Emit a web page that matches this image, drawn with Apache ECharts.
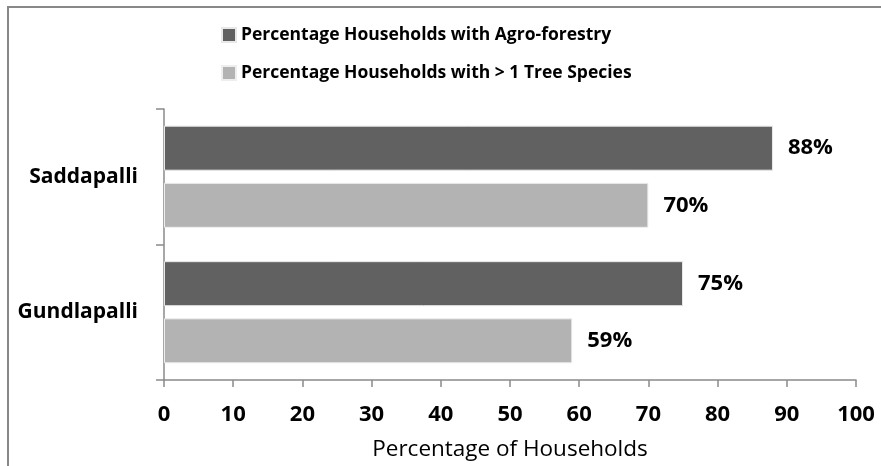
<!DOCTYPE html>
<html>
<head>
<meta charset="utf-8">
<script src="https://cdn.jsdelivr.net/npm/echarts@6/dist/echarts.min.js"></script>
<style>
  html, body { margin: 0; padding: 0; background: #ffffff; }
  #chart { width: 881px; height: 466px; }
</style>
</head>
<body>
<div id="chart"></div>
<script>
// Villages, listed bottom to top on the category axis
const villages = ['Gundlapalli', 'Saddapalli'];

// Share of households (%) per village
const agroForestry = [75, 88];
const multiSpecies = [59, 70];

const seriesNames = [
  'Percentage Households with Agro-forestry',
  'Percentage Households with > 1 Tree Species'
];

const xTicks = { min: 0, max: 100, interval: 10 };

const FONT = '"Open Sans", Lato, sans-serif';
const axisGray = '#8a8a8a';

const chart = echarts.init(document.getElementById('chart'), null, { renderer: 'canvas' });

chart.setOption({
  backgroundColor: '#ffffff',
  animation: false,
  graphic: [
    {
      type: 'polyline',
      shape: { points: [[8, 470], [8, 7], [890, 7]] },
      style: { stroke: '#888888', lineWidth: 2, fill: null },
      silent: true
    }
  ],
  legend: {
    orient: 'vertical',
    left: 216,
    top: 21,
    itemWidth: 14,
    itemHeight: 14,
    itemGap: 20,
    icon: 'rect',
    data: seriesNames,
    textStyle: { fontFamily: FONT, fontWeight: 'bold', fontSize: 17.5, color: '#000000' }
  },
  grid: {
    left: 164,
    right: 25,
    top: 109,
    bottom: 86,
    containLabel: false
  },
  xAxis: {
    type: 'value',
    min: xTicks.min,
    max: xTicks.max,
    interval: xTicks.interval,
    name: 'Percentage of Households',
    nameLocation: 'middle',
    nameGap: 58,
    nameTextStyle: { fontFamily: FONT, fontSize: 22.5, color: '#000000' },
    axisLine: { show: true, lineStyle: { color: axisGray, width: 1.5 } },
    axisTick: { show: true, length: 7, lineStyle: { color: axisGray, width: 1.5 } },
    splitLine: { show: false },
    axisLabel: {
      margin: 24,
      fontFamily: FONT,
      fontWeight: 'bold',
      fontSize: 22,
      color: '#000000'
    }
  },
  yAxis: {
    type: 'category',
    data: villages,
    axisLine: { show: true, lineStyle: { color: axisGray, width: 1.5 } },
    axisTick: { show: true, length: 8, lineStyle: { color: axisGray, width: 1.5 } },
    axisLabel: {
      margin: 26,
      fontFamily: FONT,
      fontWeight: 'bold',
      fontSize: 21,
      color: '#000000'
    }
  },
  series: [
    {
      name: seriesNames[0],
      type: 'bar',
      data: agroForestry,
      barWidth: 45,
      barGap: '27%',
      itemStyle: { color: '#616161', borderColor: '#e8e8e8', borderWidth: 1 },
      label: {
        show: true,
        position: 'right',
        distance: 15,
        formatter: p => p.value + '%',
        fontFamily: FONT,
        fontWeight: 'bold',
        fontSize: 22,
        color: '#000000'
      }
    },
    {
      name: seriesNames[1],
      type: 'bar',
      data: multiSpecies,
      barWidth: 45,
      barGap: '27%',
      itemStyle: { color: '#b3b3b3', borderColor: '#eeeeee', borderWidth: 1 },
      label: {
        show: true,
        position: 'right',
        distance: 15,
        formatter: p => p.value + '%',
        fontFamily: FONT,
        fontWeight: 'bold',
        fontSize: 22,
        color: '#000000'
      }
    }
  ]
});
</script>
</body>
</html>
